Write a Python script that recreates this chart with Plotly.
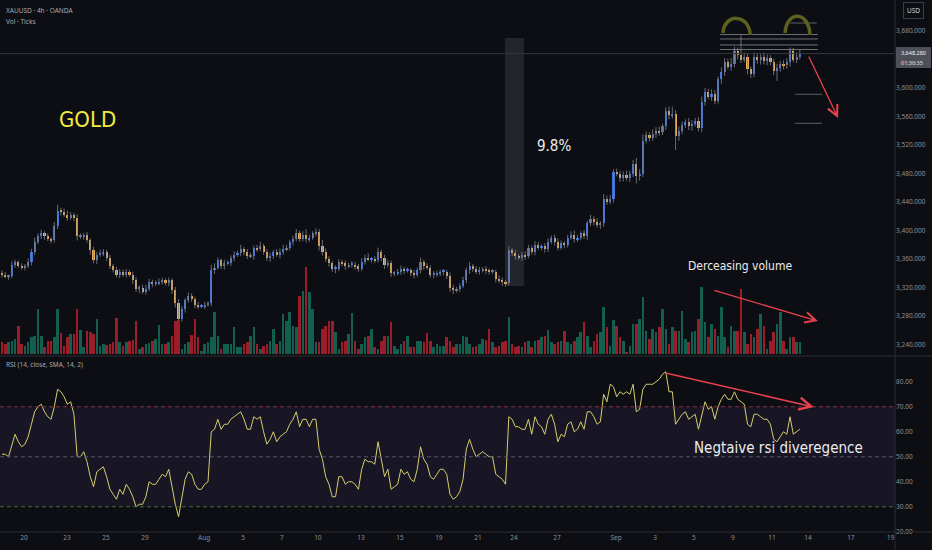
import plotly.graph_objects as go

# XAUUSD 4h (OANDA), 18 Jul - 12 Sep
first_open = 3341
closes = [
    3338, 3336, 3336, 3352, 3356, 3350, 3348, 3350, 3356, 3370,
    3384, 3392, 3396, 3392, 3388, 3386, 3406, 3428, 3426, 3422,
    3418, 3422, 3418, 3392, 3392, 3394, 3386, 3372, 3358, 3366,
    3368, 3370, 3362, 3350, 3344, 3338, 3342, 3338, 3342, 3338,
    3330, 3318, 3320, 3314, 3318, 3328, 3326, 3326, 3328, 3330,
    3326, 3330, 3316, 3298, 3276, 3290, 3302, 3308, 3304, 3296,
    3294, 3294, 3296, 3298, 3344, 3348, 3358, 3350, 3354, 3354,
    3362, 3366, 3368, 3374, 3370, 3364, 3364, 3376, 3374, 3378,
    3370, 3362, 3364, 3370, 3366, 3370, 3374, 3376, 3384, 3388,
    3396, 3388, 3394, 3388, 3390, 3396, 3398, 3378, 3370, 3360,
    3354, 3346, 3346, 3356, 3354, 3350, 3352, 3352, 3350, 3346,
    3356, 3362, 3360, 3360, 3358, 3370, 3362, 3352, 3354, 3340,
    3340, 3342, 3346, 3344, 3344, 3340, 3338, 3344, 3356, 3350,
    3348, 3338, 3338, 3340, 3342, 3342, 3336, 3320, 3316, 3318,
    3322, 3330, 3344, 3350, 3346, 3342, 3344, 3346, 3344, 3342,
    3342, 3332, 3330, 3328, 3326, 3372, 3368, 3364, 3362, 3366,
    3364, 3376, 3370, 3380, 3376, 3378, 3374, 3384, 3390, 3384,
    3376, 3382, 3380, 3390, 3394, 3388, 3390, 3396, 3392, 3410,
    3416, 3412, 3408, 3410, 3444, 3440, 3444, 3482, 3480, 3474,
    3478, 3474, 3480, 3494, 3476, 3480, 3526, 3534, 3530, 3536,
    3540, 3538, 3546, 3568, 3562, 3564, 3532, 3540, 3548, 3552,
    3546, 3550, 3554, 3544, 3580, 3594, 3588, 3592, 3582, 3612,
    3622, 3636, 3630, 3634, 3652, 3646, 3640, 3644, 3626, 3620,
    3644, 3640, 3644, 3638, 3642, 3636, 3624, 3628, 3634, 3632,
    3636, 3652, 3640, 3644, 3648.28,
]
up_wick = [
    3, 4, 2, 5, 3, 2, 4, 3, 5, 4, 6, 4, 5, 3, 4, 3, 6, 8, 4, 5,
    6, 4, 3, 5, 4, 3, 4, 3, 5, 4, 5, 4, 3, 4, 3, 5, 4, 3, 4, 3,
    4, 5, 3, 4, 6, 4, 3, 4, 5, 4, 3, 4, 3, 5, 6, 4, 3, 5, 4, 3,
    4, 3, 4, 3, 8, 6, 4, 3, 5, 4, 3, 5, 4, 6, 3, 4, 5, 3, 4, 6,
    3, 4, 5, 3, 4, 5, 6, 4, 3, 5, 6, 4, 5, 8, 4, 3, 5, 4, 9, 5,
    4, 3, 5, 4, 3, 4, 3, 5, 4, 3, 5, 4, 6, 3, 4, 6, 3, 4, 5, 4,
    3, 4, 5, 3, 4, 3, 5, 4, 6, 3, 4, 3, 5, 4, 3, 4, 3, 5, 4, 3,
    4, 5, 4, 6, 3, 4, 5, 3, 4, 3, 4, 3, 5, 4, 3, 6, 4, 5, 3, 4,
    5, 4, 3, 5, 4, 3, 4, 5, 3, 4, 5, 4, 3, 4, 5, 6, 4, 3, 5, 4,
    6, 4, 5, 3, 7, 5, 6, 4, 5, 4, 5, 6, 4, 5, 8, 6, 9, 5, 4, 6,
    5, 6, 4, 5, 6, 10, 5, 6, 5, 4, 6, 5, 4, 5, 8, 6, 5, 6, 5, 4,
    7, 6, 5, 8, 6, 5, 28, 6, 5, 4, 6, 5, 4, 6, 5, 4, 5, 6, 4, 5,
    6, 5, 4, 6, 5,
]
dn_wick = [
    4, 3, 5, 3, 4, 2, 3, 4, 3, 5, 4, 3, 4, 5, 3, 4, 3, 4, 5, 3,
    4, 3, 5, 6, 4, 5, 3, 6, 4, 5, 3, 4, 5, 4, 3, 4, 5, 3, 4, 3,
    5, 4, 6, 3, 4, 3, 5, 4, 3, 4, 3, 4, 5, 6, 8, 4, 5, 3, 4, 5,
    4, 3, 4, 3, 4, 5, 3, 4, 5, 3, 4, 5, 3, 4, 5, 4, 3, 5, 4, 3,
    4, 5, 6, 4, 3, 5, 4, 3, 4, 5, 3, 4, 3, 5, 4, 3, 4, 6, 5, 4,
    5, 4, 6, 3, 4, 5, 3, 4, 5, 4, 3, 4, 3, 5, 4, 3, 5, 6, 4, 5,
    4, 3, 4, 5, 3, 4, 5, 3, 4, 5, 3, 4, 5, 3, 4, 5, 4, 6, 5, 3,
    4, 3, 4, 5, 4, 3, 4, 3, 5, 4, 3, 5, 4, 6, 5, 3, 4, 5, 3, 4,
    5, 3, 4, 5, 3, 4, 5, 4, 3, 5, 4, 3, 5, 4, 3, 5, 4, 3, 4, 5,
    4, 5, 4, 6, 5, 4, 3, 5, 4, 6, 5, 4, 6, 5, 10, 6, 5, 4, 5, 4,
    6, 5, 4, 5, 6, 5, 19, 6, 5, 4, 5, 6, 4, 5, 6, 5, 4, 6, 5, 4,
    6, 5, 4, 6, 5, 6, 5, 4, 7, 6, 5, 6, 7, 5, 6, 4, 6, 14, 5, 6,
    5, 6, 4, 5, 4,
]
volume = [
    12, 10, 12, 13, 15, 28, 10, 8, 12, 17, 18, 45, 18, 7, 13, 13, 17, 45, 21, 8,
    17, 20, 20, 45, 24, 7, 23, 22, 20, 35, 8, 10, 9, 10, 12, 36, 12, 8, 12, 13,
    14, 33, 5, 7, 10, 11, 13, 15, 29, 10, 10, 12, 18, 33, 34, 5, 10, 12, 19, 35,
    17, 3, 10, 12, 17, 42, 18, 5, 10, 10, 10, 27, 7, 7, 10, 12, 18, 27, 10, 5,
    8, 10, 13, 25, 10, 13, 40, 33, 42, 28, 27, 58, 63, 87, 62, 45, 12, 12, 25, 28,
    33, 33, 22, 5, 12, 13, 20, 41, 13, 5, 10, 17, 18, 25, 7, 5, 13, 18, 18, 32,
    8, 5, 10, 13, 18, 7, 7, 13, 13, 12, 21, 13, 7, 10, 8, 8, 17, 13, 7, 10,
    10, 18, 17, 10, 7, 8, 10, 15, 14, 25, 12, 7, 8, 12, 13, 37, 10, 7, 8, 7,
    12, 13, 7, 13, 14, 17, 18, 24, 12, 10, 12, 13, 23, 12, 10, 13, 17, 22, 32, 18,
    7, 13, 20, 22, 47, 27, 8, 34, 28, 17, 13, 2, 8, 30, 30, 35, 57, 23, 15, 25,
    22, 27, 45, 25, 10, 27, 23, 23, 43, 15, 12, 22, 23, 35, 67, 32, 17, 30, 25, 18,
    47, 17, 7, 28, 23, 23, 65, 22, 10, 20, 17, 25, 40, 28, 5, 13, 22, 30, 42, 13,
    5, 17, 17, 12, 12,
]
rsi = [
    51, 51, 50, 55, 59, 56, 54, 55, 58, 63, 68, 70, 71, 68, 66, 65, 70, 77, 76, 74,
    71, 72, 67, 50, 50, 52, 48, 42, 38, 44, 45, 46, 42, 37, 35, 33, 37, 35, 39, 37,
    34, 30, 31, 31, 34, 40, 39, 39, 41, 43, 42, 45, 38, 31, 26, 34, 41, 44, 43, 39,
    37, 37, 39, 40, 60, 61, 65, 61, 63, 63, 65, 66, 67, 68, 65, 61, 61, 66, 65, 66,
    60, 55, 57, 60, 56, 58, 59, 60, 63, 65, 68, 62, 65, 65, 62, 65, 65, 53, 49, 42,
    39, 34, 34, 42, 42, 39, 40, 40, 39, 37, 45, 49, 48, 48, 47, 56, 49, 42, 45, 37,
    38, 39, 45, 43, 44, 41, 40, 45, 54, 49, 47, 42, 41, 43, 45, 45, 43, 35, 33, 34,
    36, 41, 53, 57, 53, 50, 51, 52, 51, 50, 50, 43, 42, 41, 39, 66, 65, 62, 62, 61,
    61, 65, 59, 66, 63, 62, 59, 65, 67, 63, 56, 59, 58, 63, 64, 60, 61, 64, 61, 68,
    68, 66, 63, 64, 75, 72, 79, 78, 74, 76, 75, 76, 75, 79, 68, 69, 77, 79, 79, 79,
    80, 81, 83, 84, 76, 76, 63, 65, 67, 68, 65, 66, 67, 61, 67, 72, 69, 70, 65, 70,
    73, 75, 73, 73, 76, 73, 72, 71, 63, 62, 67, 67, 66, 65, 65, 63, 57, 56, 58, 60,
    59, 66, 59, 60, 61,
]

# bar-index positions of the day labels on the time axis
date_ticks = [6.7, 19.9, 31.8, 43.7, 61.8, 73.7, 85.6, 96.6, 109.8, 121.7, 133.6,
              145.6, 156.6, 169.7, 187.8, 199.7, 211.6, 223.5, 235.5, 246.5, 259.6, 271.7]
date_labels = ["20", "23", "25", "29", "Aug", "5", "7", "10", "13", "15", "19",
               "21", "24", "27", "Sep", "3", "5", "9", "11", "14", "17", "19"]
# 3,640 sits under the last-price tag on the scale, so it is not shown
price_ticks = [3240, 3280, 3320, 3360, 3400, 3440, 3480, 3520, 3560, 3600, 3680]
rsi_ticks = [20, 30, 40, 50, 60, 70, 80, 90]

BG = "#0d0e13"
UP = "#3d70d6"
DOWN = "#ebae57"
VOL_UP = "#125f4f"
VOL_DOWN = "#9b1d2a"
ARROW = "#e8414e"
TEXT_FONT = "DejaVu Sans Condensed, sans-serif"

n = len(closes)
idx = list(range(n))
opens = [first_open] + closes[:-1]
highs = [max(o, c) + u for o, c, u in zip(opens, closes, up_wick)]
lows = [min(o, c) - d for o, c, d in zip(opens, closes, dn_wick)]
body_base = [min(o, c) for o, c in zip(opens, closes)]
body_h = [max(abs(c - o), 1.5) for o, c in zip(opens, closes)]
body_colors = [UP if c >= o else DOWN for o, c in zip(opens, closes)]
vol_colors = [VOL_UP if c >= o else VOL_DOWN for o, c in zip(opens, closes)]

wick_x, wick_y = [], []
for i, lo, hi in zip(idx, lows, highs):
    wick_x += [i, i, None]
    wick_y += [lo, hi, None]

fig = go.Figure()

fig.add_trace(go.Bar(
    x=idx, y=volume, yaxis="y3", width=0.78,
    marker=dict(color=vol_colors, line=dict(width=0)),
    hoverinfo="skip",
))
fig.add_trace(go.Scatter(
    x=wick_x, y=wick_y, mode="lines",
    line=dict(color="#80838c", width=0.8), hoverinfo="skip",
))
fig.add_trace(go.Bar(
    x=idx, y=body_h, base=body_base, width=0.66,
    marker=dict(color=body_colors, line=dict(width=0)),
))
fig.add_trace(go.Scatter(
    x=idx, y=rsi, yaxis="y2", mode="lines",
    line=dict(color="#d6cd6c", width=1),
))

last = closes[-1]

# plot area is 895 x 532 px; helpers for the screen-fixed labels
def px_x(px):
    return px / 895

def px_y(py):
    return 1 - py / 532

shapes = [
    # RSI band and levels
    dict(type="rect", xref="paper", yref="y2", x0=0, x1=1, y0=30, y1=70,
         fillcolor="rgba(126,87,194,0.10)", line_width=0, layer="below"),
    dict(type="line", xref="paper", yref="y2", x0=0, x1=1, y0=70, y1=70,
         line=dict(color="#8a2f45", width=1, dash="4px,3px")),
    dict(type="line", xref="paper", yref="y2", x0=0, x1=1, y0=50, y1=50,
         line=dict(color="#55535f", width=1, dash="4px,3px")),
    dict(type="line", xref="paper", yref="y2", x0=0, x1=1, y0=30, y1=30,
         line=dict(color="#3f6e3a", width=1, dash="4px,3px")),
    # measuring box of the breakout
    dict(type="rect", xref="x", yref="y", x0=153.8, x1=159.6, y0=3322, y1=3670,
         fillcolor="rgba(120,123,134,0.22)", line_width=0, layer="below"),
    # last price line
    dict(type="line", xref="paper", yref="y", x0=0, x1=1, y0=last, y1=last,
         line=dict(color="#34373f", width=1)),
    # pane separators
    dict(type="line", xref="paper", yref="paper", x0=0, x1=932 / 895,
         y0=px_y(356), y1=px_y(356), line=dict(color="#2a2d34", width=1)),
    dict(type="line", xref="paper", yref="paper", x0=0, x1=932 / 895,
         y0=0, y1=0, line=dict(color="#2a2d34", width=1)),
    dict(type="line", xref="paper", yref="paper", x0=1, x1=1,
         y0=px_y(550), y1=1, line=dict(color="#2a2d34", width=1)),
    # last price tag on the scale
    dict(type="rect", xref="paper", yref="paper", x0=px_x(896), x1=px_x(931),
         y0=px_y(68), y1=px_y(47), fillcolor="#4d5059", line_width=0),
]

# horizontal levels drawn at the top
for lvl in [3675.1, 3668.8, 3660.4, 3654.0]:
    shapes.append(dict(type="line", xref="x", yref="y", x0=219.6, x1=249.5, y0=lvl, y1=lvl,
                       line=dict(color="rgba(175,178,186,0.6)", width=1)))
shapes.append(dict(type="line", xref="x", yref="y", x0=241.0, x1=249.2, y0=3691.2, y1=3691.2,
                   line=dict(color="rgba(175,178,186,0.5)", width=1)))
for lvl in [3591.2, 3550.5]:
    shapes.append(dict(type="line", xref="x", yref="y", x0=242.5, x1=250.8, y0=lvl, y1=lvl,
                       line=dict(color="rgba(175,178,186,0.5)", width=1)))

# the two tops
shapes.append(dict(type="path", xref="x", yref="y",
                   path="M 220.5,3677.2 C 220.8,3705 228.5,3705 228.8,3674.4",
                   line=dict(color="#5e6020", width=3.5)))
shapes.append(dict(type="path", xref="x", yref="y",
                   path="M 239.5,3677.2 C 239.8,3709 246.8,3709 247.1,3674.4",
                   line=dict(color="#5e6020", width=3.5)))

annotations = [
    dict(xref="paper", yref="paper", x=px_x(4), y=px_y(10), text="XAUUSD · 4h · OANDA",
         showarrow=False, xanchor="left", yanchor="middle", font=dict(size=6.5, color="#a6a9b2")),
    dict(xref="paper", yref="paper", x=px_x(4), y=px_y(21), text="Vol · Ticks",
         showarrow=False, xanchor="left", yanchor="middle", font=dict(size=6.5, color="#a6a9b2")),
    dict(xref="paper", yref="paper", x=px_x(4), y=px_y(364), text="RSI (14, close, SMA, 14, 2)",
         showarrow=False, xanchor="left", yanchor="middle", font=dict(size=6.5, color="#a6a9b2")),
    dict(xref="paper", yref="paper", x=px_x(913), y=px_y(10), text="USD", showarrow=False,
         xanchor="center", yanchor="middle", bordercolor="#3b3e46", borderwidth=1, borderpad=3,
         font=dict(size=6.5, color="#d1d4dc")),
    dict(xref="paper", yref="paper", x=px_x(899), y=px_y(52.5), text=f"{last:,.3f}",
         showarrow=False, xanchor="left", yanchor="middle", font=dict(size=5.5, color="#f0f0f0")),
    dict(xref="paper", yref="paper", x=px_x(899), y=px_y(63), text="01:30:35",
         showarrow=False, xanchor="left", yanchor="middle", font=dict(size=5.5, color="#e0e0e0")),
    dict(xref="x", yref="y", x=26.3, y=3556.5, text="GOLD", showarrow=False,
         font=dict(family=TEXT_FONT, size=22, color="#f3eb3f")),
    dict(xref="x", yref="y", x=168.8, y=3518.6, text="9.8%", showarrow=False,
         font=dict(family=TEXT_FONT, size=15, color="#ececec")),
    dict(xref="x", yref="y", x=225.7, y=3350.2, text="Derceasing volume", showarrow=False,
         font=dict(family=TEXT_FONT, size=12, color="#ececec")),
    dict(xref="x", yref="y2", x=237.6, y=53.5, text="Negtaive rsi diveregence", showarrow=False,
         font=dict(family=TEXT_FONT, size=15, color="#ececec")),
    # arrows
    dict(xref="x", yref="y", axref="x", ayref="y", x=255.7, y=3557.9, ax=246.5, ay=3646.3,
         text="", showarrow=True, arrowhead=5, arrowsize=1.6, arrowwidth=1.3, arrowcolor=ARROW),
    dict(xref="x", yref="y", axref="x", ayref="y", x=249.5, y=3273, ax=217.4, ay=3316.5,
         text="", showarrow=True, arrowhead=5, arrowsize=1.6, arrowwidth=1.3, arrowcolor=ARROW),
    dict(xref="x", yref="y2", axref="x", ayref="y2", x=248.3, y=69.9, ax=202.8, ay=83.5,
         text="", showarrow=True, arrowhead=5, arrowsize=1.6, arrowwidth=1.5, arrowcolor=ARROW),
]

fig.update_layout(
    width=932, height=550,
    margin=dict(l=0, r=37, t=0, b=18),
    paper_bgcolor=BG, plot_bgcolor=BG,
    barmode="overlay", bargap=0,
    showlegend=False,
    font=dict(family="Noto Sans, sans-serif", size=7, color="#8b8e97"),
    xaxis=dict(range=[-0.61, 273.1], anchor="y2", tickvals=date_ticks, ticktext=date_labels,
               showgrid=False, zeroline=False, showline=False, ticks="",
               tickfont=dict(size=6.5, color="#8b8e97")),
    yaxis=dict(domain=[px_y(356), 1], range=[3223.9, 3723.5], side="right",
               tickvals=price_ticks, ticktext=[f"{v:,.3f}" for v in price_ticks],
               showgrid=False, zeroline=False, ticks="", tickfont=dict(size=6.5, color="#8b8e97")),
    yaxis2=dict(domain=[0, px_y(357)], range=[19.9, 89.9], side="right", anchor="x",
                tickvals=rsi_ticks, ticktext=[f"{v:.2f}" for v in rsi_ticks],
                showgrid=False, zeroline=False, ticks="", tickfont=dict(size=6.5, color="#8b8e97")),
    yaxis3=dict(overlaying="y", anchor="x", range=[-2, 354], visible=False),
    shapes=shapes,
    annotations=annotations,
)

# drop the default 8px page margin so the figure sits at the window origin
fig.write_html(
    "out.html",
    config={"displayModeBar": False},
    post_script="document.body.style.margin='0';document.body.style.overflow='hidden';",
)
